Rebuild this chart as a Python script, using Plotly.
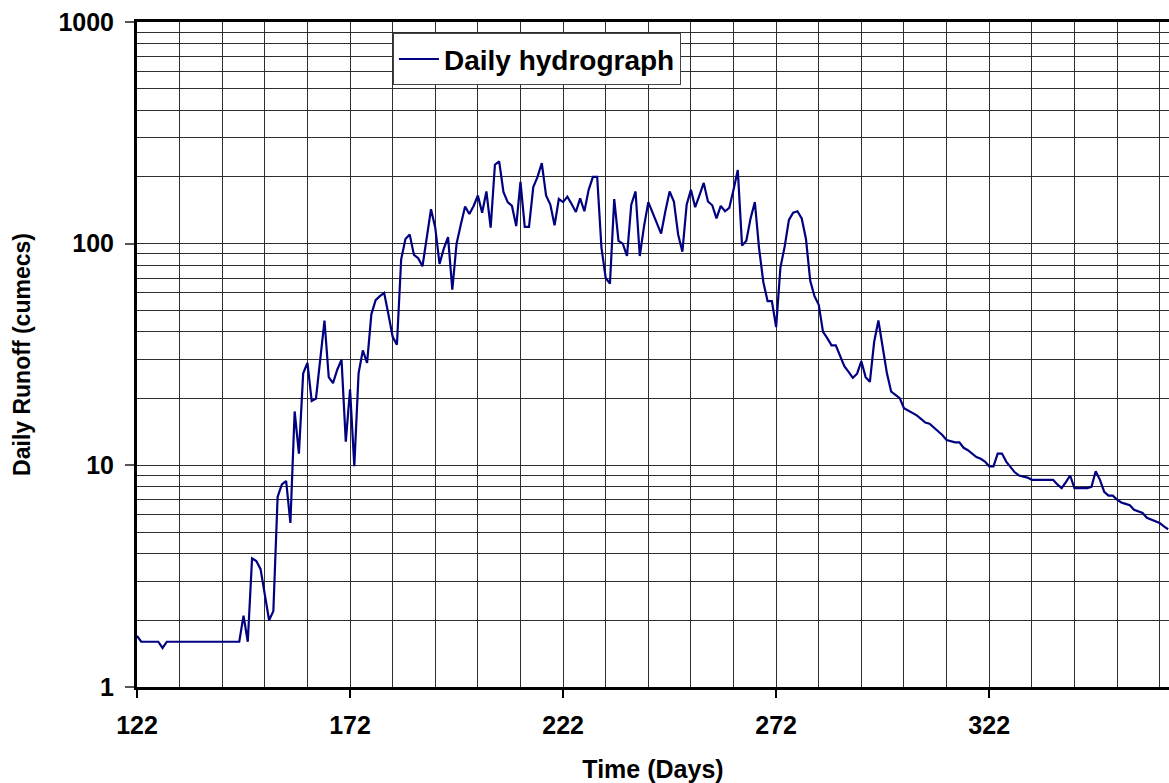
import plotly.graph_objects as go

# day of year, daily runoff (cumecs)
days = list(range(122, 365))

runoff = [
    1.7, 1.6, 1.6, 1.6, 1.6, 1.6, 1.5, 1.6, 1.6, 1.6,          # 122-131
    1.6, 1.6, 1.6, 1.6, 1.6, 1.6, 1.6, 1.6, 1.6, 1.6,          # 132-141
    1.6, 1.6, 1.6, 1.6, 1.6, 2.1, 1.6, 3.8, 3.7, 3.4,          # 142-151
    2.6, 2.0, 2.2, 7.2, 8.2, 8.5, 5.5, 17.5, 11.3, 26,         # 152-161
    29, 19.5, 20, 31, 45, 25, 23.5, 27, 30, 12.8,              # 162-171
    22, 9.9, 26, 33, 29, 48, 55.6, 58, 60, 48,                 # 172-181
    38, 35, 85, 105, 110, 89, 86, 79, 108, 143,                # 182-191
    118, 81, 95, 107, 62, 100, 122, 147, 136, 148,             # 192-201
    165, 138, 172, 118, 227, 235, 171, 154, 148, 120,          # 202-211
    190, 119, 119, 180, 200, 231, 165, 150, 121, 159,          # 212-221
    154, 163, 151, 139, 160, 140, 175, 200, 200, 96,           # 222-231
    70, 66, 159, 103, 100, 88, 150, 172, 88, 120,              # 232-241
    154, 139, 125, 111, 140, 172, 155, 110, 92, 150,           # 242-251
    175, 146, 165, 188, 155, 149, 130, 148, 140, 145,          # 252-261
    175, 215, 98, 103, 130, 154, 95, 67, 55, 55,               # 262-271
    42, 78, 97, 128, 138, 140, 130, 105, 68, 58,               # 272-281
    53, 40, 37.5, 34.8, 34.8, 31, 28, 26.4, 24.8, 25.9,        # 282-291
    29.5, 25, 23.8, 36, 45, 34.2, 26, 21.5, 20.7, 20.1,        # 292-301
    18.1, 17.7, 17.2, 16.8, 16.2, 15.6, 15.4, 14.8, 14.3, 13.7,  # 302-311
    13.0, 12.8, 12.7, 12.7, 12.0, 11.7, 11.3, 10.9, 10.7, 10.4,  # 312-321
    9.9, 9.9, 11.3, 11.3, 10.4, 9.8, 9.3, 9.0, 8.9, 8.8,       # 322-331
    8.6, 8.6, 8.6, 8.6, 8.6, 8.6, 8.2, 7.9, 8.4, 9.0,          # 332-341
    7.9, 7.9, 7.9, 7.9, 8.0, 9.4, 8.6, 7.6, 7.3, 7.3,          # 342-351
    7.0, 6.8, 6.7, 6.6, 6.3, 6.2, 6.1, 5.8, 5.7, 5.6,          # 352-361
    5.5, 5.3, 5.15,                                            # 362-364
]

x_tick_start = 122
y_tick_vals = [1, 10, 100, 1000]
y_tick_text = ["1", "10", "100", "1000"]

FONT = "Liberation Sans, Arial, sans-serif"
GRID = "#2e2e2e"

y_minor = [m * 10 ** e for e in range(3) for m in range(2, 10)]

fig = go.Figure()
fig.add_trace(go.Scatter(
    x=days, y=runoff, mode="lines", name="Daily hydrograph",
    line=dict(color="#000080", width=2.2),
))

fig.update_layout(
    width=1169, height=783,
    margin=dict(l=137, r=0, t=22, b=96),
    paper_bgcolor="white", plot_bgcolor="white",
    font=dict(family=FONT, color="black"),
    showlegend=True,
    legend=dict(
        x=0.248, y=0.983, xanchor="left", yanchor="top",
        bgcolor="white", bordercolor="#444", borderwidth=1,
        font=dict(size=28, weight="bold"),
        itemwidth=40, tracegroupgap=0,
    ),
)

fig.update_xaxes(
    range=[122, 364.2], tick0=x_tick_start, dtick=50, automargin=False,
    showline=True, linecolor="black", linewidth=3, mirror=True,
    ticks="outside", ticklen=8, tickcolor="black", tickwidth=1.5,
    tickfont=dict(size=25, weight="bold"), ticklabelstandoff=6,
    showgrid=True, gridcolor=GRID, gridwidth=1,
    minor=dict(tick0=x_tick_start, dtick=10, showgrid=True, gridcolor=GRID, gridwidth=1, ticks=""),
    zeroline=False,
    title=dict(text="Time (Days)", font=dict(size=25, weight="bold"), standoff=31),
)

fig.update_yaxes(
    type="log", range=[0, 3], automargin=False,
    tickmode="array", tickvals=y_tick_vals, ticktext=y_tick_text,
    showline=True, linecolor="black", linewidth=3,
    ticks="outside", ticklen=9, tickcolor="#555", tickwidth=1.5,
    tickfont=dict(size=25, weight="bold"), ticklabelstandoff=6,
    showgrid=True, gridcolor=GRID, gridwidth=1,
    minor=dict(tickvals=y_minor, showgrid=True, gridcolor=GRID, gridwidth=1, ticks=""),
    zeroline=False,
    title=dict(text="Daily Runoff (cumecs)", font=dict(size=23, weight="bold"), standoff=22),
)

# drop the browser's default page margin so the figure sits at the window origin
fig.write_html(
    "out.html",
    config={"displayModeBar": False},
    post_script="document.body.style.margin='0';document.body.style.overflow='hidden';",
)
